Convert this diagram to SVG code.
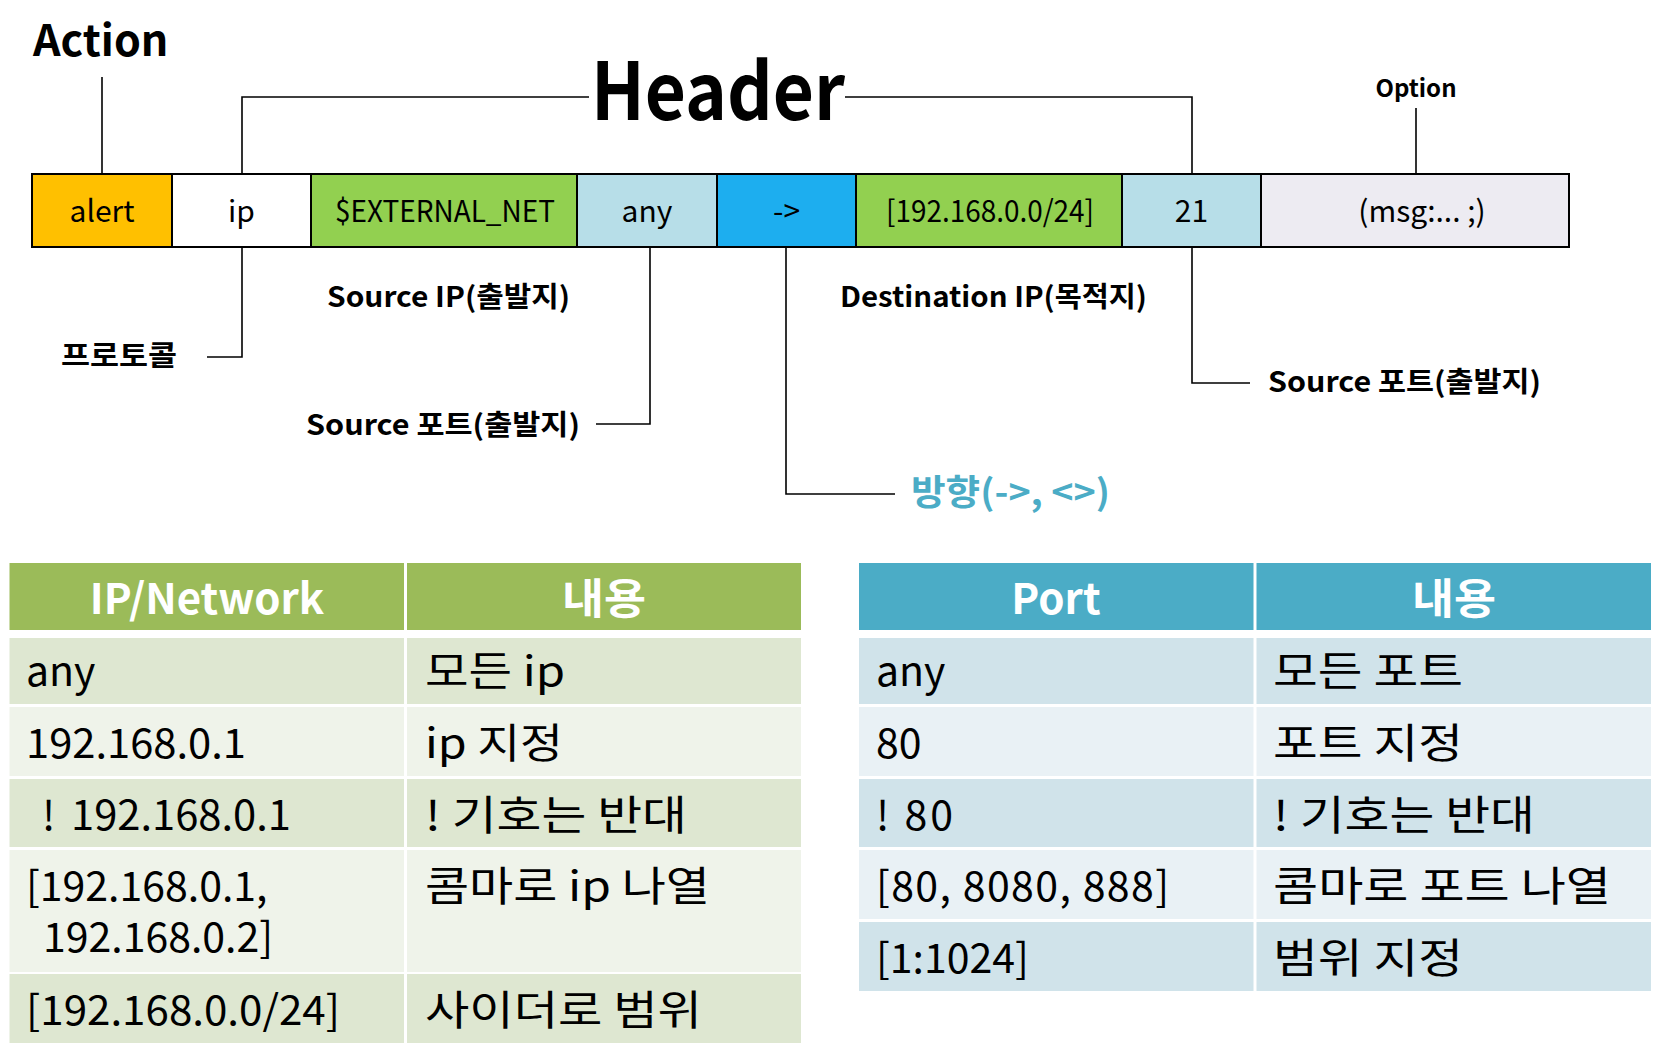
<svg xmlns="http://www.w3.org/2000/svg" width="1662" height="1056" viewBox="0 0 1662 1056">
<style>
text{font-family:"Noto Sans CJK KR","Noto Sans",sans-serif;fill:#000}
.cell{stroke:#000;stroke-width:2}
.ct{font-size:30px;text-anchor:middle}
.lbl{font-size:28px;font-weight:bold}
.ln{fill:none;stroke:#000;stroke-width:1.6}
.th{font-size:42px;font-weight:bold;fill:#fff;text-anchor:middle}
.td{font-size:41px}
</style>
<rect width="1662" height="1056" fill="#fff"/>
<g id="titles">
<text x="33" y="56" style="font-size:43px;font-weight:bold">Action</text>
<text x="591" y="120" style="font-size:79px;font-weight:bold" textLength="254" lengthAdjust="spacingAndGlyphs">Header</text>
<text x="1416" y="97" style="font-size:24px;font-weight:bold" text-anchor="middle">Option</text>
</g>
<g id="connectors">
<path class="ln" d="M102 77V174"/>
<path class="ln" d="M242 174V97H589"/>
<path class="ln" d="M845 97H1192V174"/>
<path class="ln" d="M1416 108V174"/>
<path class="ln" d="M242 247V357H207"/>
<path class="ln" d="M650 247V424H596"/>
<path class="ln" d="M786 247V494H895"/>
<path class="ln" d="M1192 247V383H1250"/>
</g>
<g id="rule">
<g id="n-alert"><rect class="cell" x="32" y="174" width="140" height="73" fill="#FFC000"/><text class="ct" x="102" y="222">alert</text></g>
<g id="n-ip"><rect class="cell" x="172" y="174" width="139" height="73" fill="#FFFFFF"/><text class="ct" x="241.5" y="222">ip</text></g>
<g id="n-src"><rect class="cell" x="311" y="174" width="266" height="73" fill="#92D050"/><text class="ct" x="335" y="222" style="text-anchor:start" textLength="220" lengthAdjust="spacingAndGlyphs">$EXTERNAL_NET</text></g>
<g id="n-any"><rect class="cell" x="577" y="174" width="140" height="73" fill="#B7DEE8"/><text class="ct" x="647" y="222">any</text></g>
<g id="n-dir"><rect class="cell" x="717" y="174" width="139" height="73" fill="#1DAEEF"/><text class="ct" x="786.5" y="222">-&gt;</text></g>
<g id="n-dst"><rect class="cell" x="856" y="174" width="266" height="73" fill="#92D050"/><text class="ct" x="886" y="222" style="text-anchor:start" textLength="208" lengthAdjust="spacingAndGlyphs">[192.168.0.0/24]</text></g>
<g id="n-port"><rect class="cell" x="1122" y="174" width="139" height="73" fill="#B7DEE8"/><text class="ct" x="1191.5" y="222">21</text></g>
<g id="n-opt"><rect class="cell" x="1261" y="174" width="308" height="73" fill="#EDEBF2"/><text class="ct" x="1422" y="222">(msg:... ;)</text></g>
</g>
<g id="labels">
<text class="lbl" x="61" y="366" textLength="116" lengthAdjust="spacingAndGlyphs">프로토콜</text>
<text class="lbl" x="327" y="307" textLength="243" lengthAdjust="spacingAndGlyphs">Source IP(출발지)</text>
<text class="lbl" x="306" y="435" textLength="274" lengthAdjust="spacingAndGlyphs">Source 포트(출발지)</text>
<text class="lbl" x="840" y="307" textLength="307" lengthAdjust="spacingAndGlyphs">Destination IP(목적지)</text>
<text class="lbl" x="1268" y="392" textLength="273" lengthAdjust="spacingAndGlyphs">Source 포트(출발지)</text>
<text x="911" y="505" style="font-size:35px;font-weight:bold;fill:#4BACC6" textLength="199" lengthAdjust="spacingAndGlyphs">방향(-&gt;, &lt;&gt;)</text>
</g>
<g id="table-ip">
<rect x="9.5" y="563" width="394.5" height="67" fill="#9BBB59"/>
<rect x="407" y="563" width="394" height="67" fill="#9BBB59"/>
<text class="th" x="207" y="614">IP/Network</text>
<text class="th" x="604" y="614" textLength="84" lengthAdjust="spacingAndGlyphs">내용</text>
<rect x="9.5" y="638" width="394.5" height="66" fill="#DEE7D1"/><rect x="407" y="638" width="394" height="66" fill="#DEE7D1"/>
<rect x="9.5" y="707" width="394.5" height="69" fill="#EFF3EA"/><rect x="407" y="707" width="394" height="69" fill="#EFF3EA"/>
<rect x="9.5" y="779" width="394.5" height="68" fill="#DEE7D1"/><rect x="407" y="779" width="394" height="68" fill="#DEE7D1"/>
<rect x="9.5" y="850" width="394.5" height="122" fill="#EFF3EA"/><rect x="407" y="850" width="394" height="122" fill="#EFF3EA"/>
<rect x="9.5" y="974" width="394.5" height="69" fill="#DEE7D1"/><rect x="407" y="974" width="394" height="69" fill="#DEE7D1"/>
<text class="td" x="26" y="686">any</text>
<text class="td" x="26" y="758" textLength="220" lengthAdjust="spacingAndGlyphs">192.168.0.1</text>
<text class="td" x="42" y="830">! <tspan x="71" textLength="220" lengthAdjust="spacingAndGlyphs">192.168.0.1</tspan></text>
<text class="td" x="26" y="901">[192.168.0.1,</text>
<text class="td" x="43" y="952">192.168.0.2]</text>
<text class="td" x="26" y="1025" textLength="314" lengthAdjust="spacingAndGlyphs">[192.168.0.0/24]</text>
<text class="td" x="425" y="686" textLength="140" lengthAdjust="spacingAndGlyphs">모든 ip</text>
<text class="td" x="425" y="758" textLength="138" lengthAdjust="spacingAndGlyphs">ip 지정</text>
<text class="td" x="425" y="830" textLength="262" lengthAdjust="spacingAndGlyphs">! 기호는 반대</text>
<text class="td" x="425" y="901" textLength="285" lengthAdjust="spacingAndGlyphs">콤마로 ip 나열</text>
<text class="td" x="425" y="1025" textLength="277" lengthAdjust="spacingAndGlyphs">사이더로 범위</text>
</g>
<g id="table-port">
<rect x="859" y="563" width="394.5" height="67" fill="#4BACC6"/>
<rect x="1256.5" y="563" width="394.5" height="67" fill="#4BACC6"/>
<text class="th" x="1056" y="614">Port</text>
<text class="th" x="1454" y="614" textLength="84" lengthAdjust="spacingAndGlyphs">내용</text>
<rect x="859" y="638" width="394.5" height="66" fill="#D0E3EA"/><rect x="1256.5" y="638" width="394.5" height="66" fill="#D0E3EA"/>
<rect x="859" y="707" width="394.5" height="69" fill="#E9F1F5"/><rect x="1256.5" y="707" width="394.5" height="69" fill="#E9F1F5"/>
<rect x="859" y="779" width="394.5" height="68" fill="#D0E3EA"/><rect x="1256.5" y="779" width="394.5" height="68" fill="#D0E3EA"/>
<rect x="859" y="850" width="394.5" height="69" fill="#E9F1F5"/><rect x="1256.5" y="850" width="394.5" height="69" fill="#E9F1F5"/>
<rect x="859" y="922" width="394.5" height="69" fill="#D0E3EA"/><rect x="1256.5" y="922" width="394.5" height="69" fill="#D0E3EA"/>
<text class="td" x="876" y="686">any</text>
<text class="td" x="876" y="758">80</text>
<text class="td" x="876" y="830" textLength="77" lengthAdjust="spacing">! 80</text>
<text class="td" x="876" y="901" textLength="293" lengthAdjust="spacing">[80, 8080, 888]</text>
<text class="td" x="876" y="973">[1:1024]</text>
<text class="td" x="1273" y="686" textLength="190" lengthAdjust="spacingAndGlyphs">모든 포트</text>
<text class="td" x="1273" y="758" textLength="190" lengthAdjust="spacingAndGlyphs">포트 지정</text>
<text class="td" x="1273" y="830" textLength="262" lengthAdjust="spacingAndGlyphs">! 기호는 반대</text>
<text class="td" x="1273" y="901" textLength="338" lengthAdjust="spacingAndGlyphs">콤마로 포트 나열</text>
<text class="td" x="1273" y="973" textLength="190" lengthAdjust="spacingAndGlyphs">범위 지정</text>
</g>
</svg>
